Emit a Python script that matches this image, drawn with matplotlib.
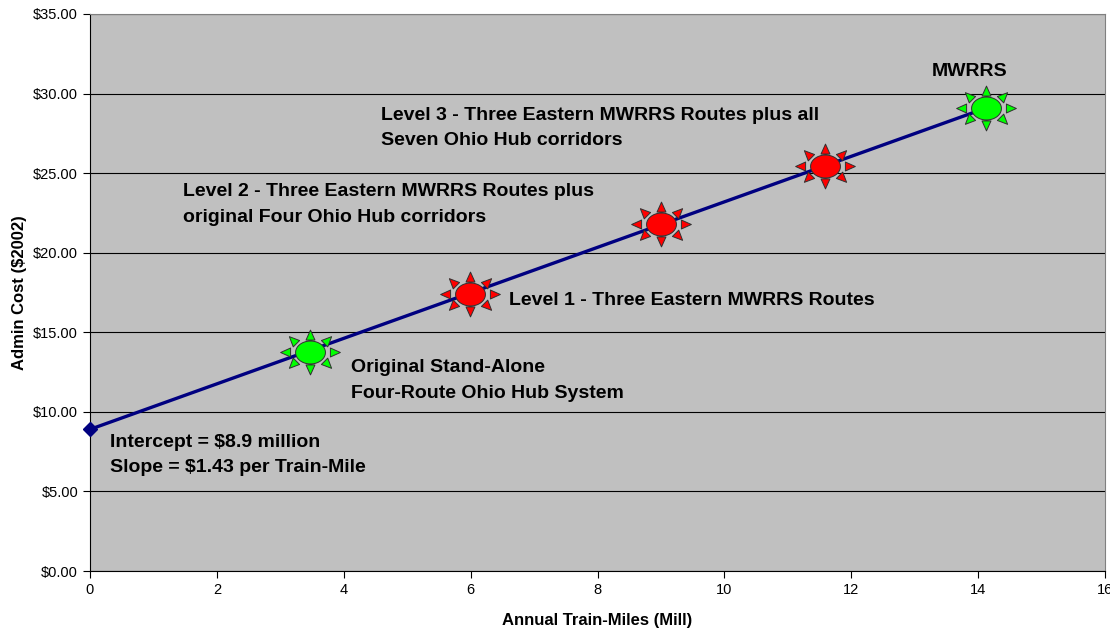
import numpy as np
import matplotlib
matplotlib.use("Agg")
import matplotlib.pyplot as plt
from matplotlib.path import Path

plt.rcParams['font.family'] = ['Liberation Sans', 'DejaVu Sans']

# data
line_x = [0, 14.13]
line_y = [8.9, 29.1]
green_x = [3.47, 14.13]
green_y = [13.76, 29.12]
red_x = [5.99, 9.0, 11.58]
red_y = [17.42, 21.82, 25.45]
xticks = list(range(0, 17, 2))
yticks = [0, 5, 10, 15, 20, 25, 30, 35]

labels = [
    (13.27, 31.36, "MWRRS"),
    (4.59, 27.84, "Level 3 - Three Eastern MWRRS Routes plus all\nSeven Ohio Hub corridors"),
    (1.47, 23.04, "Level 2 - Three Eastern MWRRS Routes plus\noriginal Four Ohio Hub corridors"),
    (6.6, 16.97, "Level 1 - Three Eastern MWRRS Routes"),
    (4.11, 11.97, "Original Stand-Alone\nFour-Route Ohio Hub System"),
    (0.315, 7.29, "Intercept = $8.9 million\nSlope = $1.43 per Train-Mile"),
]


def sun_path():
    """ellipse + 8 triangles pointing outward"""
    verts, codes = [], []
    t = np.linspace(0, 2 * np.pi, 60)
    ex, ey = 15 * np.cos(t), 11.5 * np.sin(t)
    verts += list(zip(ex, ey))
    codes += [Path.MOVETO] + [Path.LINETO] * (len(t) - 2) + [Path.CLOSEPOLY]
    for k in range(8):
        a = k * np.pi / 4
        d = np.array([np.cos(a), np.sin(a)])
        n = np.array([-d[1], d[0]])
        apex = np.array([30 * np.cos(a), 22.5 * np.sin(a)])
        base = apex - 10 * d
        p1, p2 = base + 4.5 * n, base - 4.5 * n
        verts += [tuple(apex), tuple(p1), tuple(p2), tuple(apex)]
        codes += [Path.MOVETO, Path.LINETO, Path.LINETO, Path.CLOSEPOLY]
    return Path(verts, codes)


sun = sun_path()

fig = plt.figure(figsize=(11.1, 6.3), dpi=100)
ax = fig.add_axes([90 / 1110, 59 / 630, 1015 / 1110, 557 / 630])
ax.set_facecolor('#C0C0C0')
ax.set_xlim(0, 16)
ax.set_ylim(0, 35)
ax.set_xticks(xticks)
ax.set_yticks(yticks)
ax.set_yticklabels([f"${v:.2f}" for v in yticks])
ax.tick_params(labelsize=10.5, direction='out', length=5, width=0.8)
ax.grid(axis='y', color='black', linewidth=0.8)
ax.set_axisbelow(True)
for s in ['top', 'right']:
    ax.spines[s].set_color('#808080')
ax.spines['left'].set_color('black')
ax.spines['bottom'].set_color('black')

ax.plot(line_x, line_y, color='#000080', linewidth=2.4, zorder=3)
ax.plot(line_x[:1], line_y[:1], marker='D', color='#000080', markersize=7,
        linestyle='None', zorder=4, clip_on=False)

ax.plot(green_x, green_y, marker=sun, markersize=43, linestyle='None',
        markerfacecolor='#00FF00', markeredgecolor='#303030', markeredgewidth=0.7, zorder=5)
ax.plot(red_x, red_y, marker=sun, markersize=43, linestyle='None',
        markerfacecolor='#FF0000', markeredgecolor='#303030', markeredgewidth=0.7, zorder=5)

for x, y, s in labels:
    ax.text(x, y, s, fontsize=14, fontweight='bold', ha='left', va='center',
            linespacing=1.65, zorder=6)

ax.set_xlabel("Annual Train-Miles (Mill)", fontsize=12, fontweight='bold', labelpad=12)
ax.set_ylabel("Admin Cost ($2002)", fontsize=12, fontweight='bold')
ax.yaxis.set_label_coords(-0.062, 0.5)

fig.savefig("out.png", dpi=100)
